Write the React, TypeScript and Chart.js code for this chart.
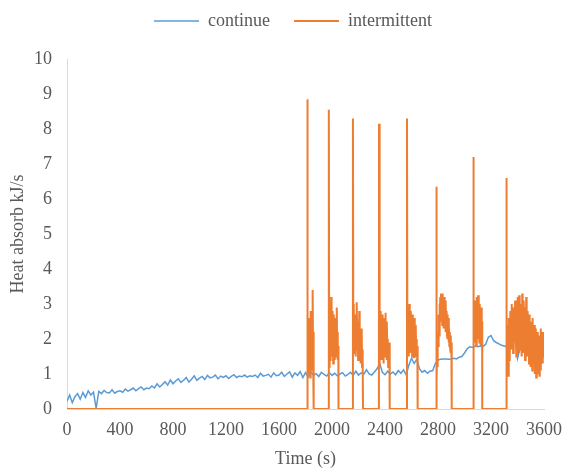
import React, { useEffect, useRef } from 'react';
import { Chart, registerables } from 'chart.js';

Chart.register(...registerables);

const seriesNames = ['continue', 'intermittent'];
const xRange = [0, 3600];
const xStep = 400;
const yRange = [0, 10];
const yStep = 1;
const xTitle = 'Time (s)';
const yTitle = 'Heat absorb kJ/s';

// continue: sampled every 20 s from 0 to 3600 s
const continueSampleStep = 20;
const continueValues = [
  0.22, 0.40, 0.18, 0.35, 0.44, 0.28, 0.47, 0.33, 0.52, 0.40,
  0.48, 0.02, 0.50, 0.44, 0.53, 0.47, 0.46, 0.55, 0.45, 0.50,
  0.52, 0.48, 0.57, 0.51, 0.55, 0.60, 0.52, 0.58, 0.63, 0.55,
  0.60, 0.58, 0.66, 0.60, 0.72, 0.63, 0.70, 0.78, 0.68, 0.83,
  0.72, 0.80, 0.86, 0.76, 0.82, 0.90, 0.77, 0.85, 0.95, 0.82,
  0.88, 0.93, 0.84, 0.96, 0.89, 0.91, 0.97, 0.86, 0.94, 0.90,
  0.95, 0.87, 0.93, 0.98, 0.90, 0.94, 0.92, 0.97, 0.91, 0.95,
  0.93, 0.97, 0.90, 1.02, 0.94, 0.96, 0.99, 0.91, 1.03, 0.95,
  0.97, 1.05, 0.93, 1.00, 1.06, 0.91, 1.03, 0.96, 1.07, 0.90,
  1.04, 0.92, 1.06, 0.97, 1.01, 0.93, 1.05, 0.99, 0.94, 1.04,
  0.96, 1.02, 0.95, 1.00, 1.04, 0.94, 0.99, 1.05, 0.96, 1.08,
  0.97, 1.03, 0.99, 1.12, 1.00, 0.97, 1.06, 1.15, 1.30, 1.05,
  0.98, 1.08, 1.00, 1.06, 0.98, 1.10, 1.02, 1.12, 0.98, 1.25,
  1.45, 1.30, 1.42, 1.15, 1.05, 1.10, 1.02, 1.08, 1.10, 1.30,
  1.40, 1.42, 1.43, 1.43, 1.42, 1.43, 1.45, 1.43, 1.48, 1.50,
  1.60, 1.72, 1.78, 1.76, 1.80, 1.78, 1.80, 1.79, 1.85, 2.05,
  2.10, 1.95, 1.90, 1.86, 1.82, 1.80, 1.78, 1.70, 1.85, 2.10,
  1.45, 1.75, 1.70, 1.78, 1.72, 1.76, 1.80, 1.74, 1.78, 1.72,
  1.76,
];
const continueTimes = continueValues.map((_, i) => i * continueSampleStep);

// intermittent: [time s, value kJ/s]
const intermittentPoints: [number, number][] = [
  [0, 0], [1812, 0],
  [1813, 8.85], [1815, 1.2], [1818, 0.8], [1821, 2.1], [1824, 1.0], [1827, 2.6], [1830, 1.3], [1833, 2.2],
  [1836, 0.9], [1839, 2.8], [1842, 1.5], [1845, 2.0], [1848, 1.1], [1851, 2.4], [1854, 3.4], [1857, 1.6],
  [1860, 2.2], [1862, 1.8], [1863, 0],
  [1975, 0],
  [1976, 8.55], [1979, 1.2], [1982, 2.2], [1985, 1.4], [1988, 2.6], [1991, 1.6], [1994, 3.2], [1997, 1.9],
  [2000, 2.8], [2003, 1.5], [2006, 2.5], [2009, 1.3], [2012, 2.7], [2015, 1.8], [2018, 2.4], [2021, 1.4],
  [2024, 2.6], [2027, 1.7], [2030, 2.3], [2033, 1.5], [2036, 2.9], [2039, 1.6], [2042, 2.2], [2045, 1.4],
  [2048, 1.8], [2049, 0],
  [2157, 0],
  [2158, 8.3], [2161, 1.8], [2164, 3.0], [2167, 1.6], [2170, 2.7], [2173, 1.9], [2176, 2.4], [2179, 1.5],
  [2182, 2.6], [2185, 2.0], [2188, 3.05], [2191, 1.7], [2194, 2.5], [2197, 1.4], [2200, 2.2], [2203, 1.6],
  [2206, 2.8], [2209, 1.5], [2212, 2.1], [2215, 1.3], [2218, 1.9], [2221, 1.5], [2224, 2.3], [2227, 1.2],
  [2230, 1.7], [2233, 1.4], [2234, 0],
  [2354, 0],
  [2355, 8.15], [2358, 1.2], [2361, 2.3], [2364, 1.6], [2367, 2.8], [2370, 1.9], [2373, 2.5], [2376, 1.4],
  [2379, 2.7], [2382, 1.8], [2385, 2.3], [2388, 1.3], [2391, 2.6], [2394, 1.9], [2397, 2.4], [2400, 1.5],
  [2403, 2.75], [2406, 1.7], [2409, 2.2], [2412, 1.4], [2415, 2.5], [2418, 1.6], [2421, 2.0], [2424, 1.2],
  [2427, 1.8], [2430, 1.5], [2433, 1.9], [2435, 1.4], [2436, 0],
  [2565, 0],
  [2566, 8.3], [2569, 1.6], [2572, 2.9], [2575, 1.8], [2578, 2.5], [2581, 1.5], [2584, 3.0], [2587, 2.0],
  [2590, 2.6], [2593, 1.6], [2596, 2.8], [2599, 1.9], [2602, 2.4], [2605, 1.5], [2608, 2.7], [2611, 1.8],
  [2614, 2.3], [2617, 1.45], [2620, 2.6], [2623, 1.7], [2626, 2.2], [2629, 1.5], [2632, 2.4], [2635, 1.6],
  [2638, 2.0], [2641, 1.5], [2644, 1.8], [2646, 1.6], [2647, 0],
  [2787, 0],
  [2788, 6.35], [2790, 0.8], [2793, 1.6], [2796, 1.2], [2799, 2.2], [2802, 1.8], [2805, 2.7], [2808, 2.1],
  [2811, 3.0], [2814, 2.3], [2817, 3.2], [2820, 2.5], [2823, 3.3], [2826, 2.6], [2829, 3.1], [2832, 2.4],
  [2835, 3.3], [2838, 2.7], [2841, 3.0], [2844, 2.3], [2847, 3.2], [2850, 2.5], [2853, 2.9], [2856, 2.2],
  [2859, 3.1], [2862, 2.4], [2865, 2.8], [2868, 2.1], [2871, 2.7], [2874, 2.0], [2877, 2.6], [2880, 1.9],
  [2883, 2.4], [2886, 1.8], [2889, 2.2], [2892, 1.7], [2895, 2.1], [2898, 1.6], [2901, 1.9], [2903, 1.7],
  [2904, 0],
  [3066, 0],
  [3067, 7.2], [3070, 1.8], [3073, 2.6], [3076, 1.9], [3079, 3.1], [3082, 2.2], [3085, 2.8], [3088, 1.8],
  [3091, 3.2], [3094, 2.3], [3097, 2.9], [3100, 2.0], [3103, 3.25], [3106, 2.4], [3109, 2.7], [3112, 1.9],
  [3115, 3.0], [3118, 2.1], [3121, 2.6], [3124, 1.8], [3127, 2.9], [3130, 2.0], [3133, 2.5], [3134, 0],
  [3315, 0],
  [3316, 6.6], [3319, 1.5], [3322, 2.4], [3325, 1.0], [3328, 2.1], [3331, 0.95], [3334, 2.6], [3337, 1.4],
  [3340, 2.2], [3343, 1.6], [3346, 2.8], [3349, 1.9], [3352, 2.5], [3355, 1.7], [3358, 3.0], [3361, 2.0],
  [3364, 2.7], [3367, 1.6], [3370, 2.9], [3373, 1.8], [3376, 2.4], [3379, 2.1], [3382, 3.1], [3385, 1.9],
  [3388, 2.6], [3391, 1.5], [3394, 2.9], [3397, 1.8], [3400, 3.2], [3403, 2.0], [3406, 2.7], [3409, 1.6],
  [3412, 3.25], [3415, 2.2], [3418, 2.8], [3421, 1.7], [3424, 3.0], [3427, 2.1], [3430, 2.6], [3433, 1.5],
  [3436, 3.3], [3439, 2.0], [3442, 2.8], [3445, 1.6], [3448, 3.1], [3451, 2.2], [3454, 2.5], [3457, 1.4],
  [3460, 2.9], [3463, 1.9], [3466, 3.2], [3469, 2.1], [3472, 2.6], [3475, 1.5], [3478, 2.8], [3481, 1.7],
  [3484, 2.4], [3487, 1.3], [3490, 2.7], [3493, 1.6], [3496, 2.3], [3499, 1.2], [3502, 2.5], [3505, 1.4],
  [3508, 2.2], [3511, 1.1], [3514, 2.6], [3517, 1.5], [3520, 2.0], [3523, 1.3], [3526, 2.4], [3529, 1.0],
  [3532, 2.1], [3535, 1.4], [3538, 2.3], [3541, 0.9], [3544, 1.9], [3547, 1.2], [3550, 2.2], [3553, 1.0],
  [3556, 1.8], [3559, 1.3], [3562, 2.1], [3565, 0.95], [3568, 1.7], [3571, 1.2], [3574, 2.3], [3577, 1.1],
  [3580, 1.9], [3583, 1.4], [3586, 2.2], [3589, 1.3], [3592, 2.0], [3595, 1.5], [3598, 2.2], [3600, 2.1],
];

const TEXT = '#595959';
const AXIS = '#D9D9D9';
const BLUE = '#5B9BD5';
const ORANGE = '#ED7D31';

export default function App() {
  const ref = useRef<HTMLCanvasElement>(null);

  useEffect(() => {
    document.body.style.margin = '0';
    Chart.defaults.font.family = "'Liberation Serif', 'Times New Roman', serif";
    Chart.defaults.font.size = 18;
    Chart.defaults.color = TEXT;

    const font = { family: "'Liberation Serif', 'Times New Roman', serif", size: 18 };

    const chart = new Chart(ref.current as HTMLCanvasElement, {
      type: 'line',
      data: {
        datasets: [
          {
            label: seriesNames[0],
            data: continueTimes.map((t, i) => ({ x: t, y: continueValues[i] })),
            borderColor: BLUE,
            backgroundColor: BLUE,
            borderWidth: 1.5,
            pointRadius: 0,
            tension: 0,
            order: 1,
            xAxisID: 'x',
            yAxisID: 'y',
          },
          {
            label: seriesNames[1],
            data: intermittentPoints.map(([t, v]) => ({ x: t, y: v })),
            borderColor: ORANGE,
            backgroundColor: ORANGE,
            borderWidth: 2,
            pointRadius: 0,
            tension: 0,
            order: 0,
            xAxisID: 'x',
            yAxisID: 'y',
          },
        ],
      },
      options: {
        animation: false,
        responsive: false,
        events: [],
        layout: { padding: { left: 23, right: 0, top: -12, bottom: 0 } },
        plugins: {
          legend: {
            position: 'top',
            labels: {
              usePointStyle: true,
              pointStyle: 'line',
              pointStyleWidth: 45,
              padding: 24,
              color: TEXT,
              font,
              sort: (a: any, b: any) => a.datasetIndex - b.datasetIndex,
            },
          },
          tooltip: { enabled: false },
        },
        scales: {
          x: {
            type: 'linear',
            position: 'bottom',
            min: xRange[0],
            max: xRange[1],
            ticks: {
              stepSize: xStep, padding: 10, color: TEXT, font, maxRotation: 0, autoSkip: false,
              callback: (v: any) => String(v),
            },
            grid: { display: false, drawTicks: false },
            border: { display: true, color: AXIS, width: 1 },
            title: { display: true, text: xTitle, color: TEXT, font, padding: 0 },
            afterFit: (s: any) => { s.height = 61; s.paddingRight = 19; s.paddingLeft = 0; },
          },
          y: {
            type: 'linear',
            position: 'left',
            min: yRange[0],
            max: yRange[1],
            ticks: { stepSize: yStep, padding: 15, color: TEXT, font, callback: (v: any) => String(v) },
            grid: { display: false, drawTicks: false },
            border: { display: true, color: AXIS, width: 1 },
            title: { display: true, text: yTitle, color: TEXT, font, padding: { top: -16, bottom: 0 } },
            afterFit: (s: any) => { s.width = 44; },
          },
          spacer: {
            type: 'linear',
            position: 'top',
            display: true,
            ticks: { display: false },
            grid: { display: false, drawTicks: false },
            border: { display: false },
            afterFit: (s: any) => { s.height = 19; },
          },
        },
      } as any,
    });

    return () => chart.destroy();
  }, []);

  return (
    <div style={{ width: 563, height: 470 }}>
      <canvas ref={ref} width={563} height={470} />
    </div>
  );
}
